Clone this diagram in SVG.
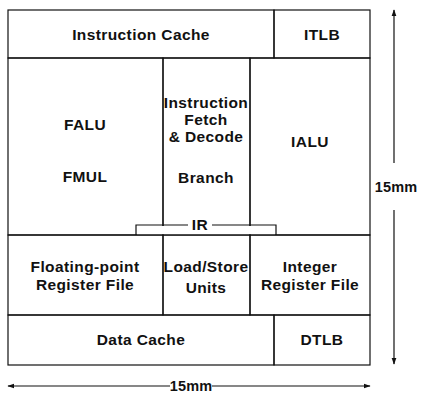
<svg xmlns="http://www.w3.org/2000/svg" width="422" height="393" viewBox="0 0 422 393">
<style>
text{font-family:"Liberation Sans",Arial,sans-serif;font-weight:bold;font-size:15.5px;fill:#111;text-anchor:middle;letter-spacing:0.4px}
.dim{font-size:14.5px;letter-spacing:0.2px}
.ln{stroke:#111;stroke-width:1.2;fill:none}
</style>
<defs>
<marker id="ah" viewBox="0 0 10 10" refX="9" refY="5" markerWidth="7" markerHeight="7" orient="auto-start-reverse" markerUnits="userSpaceOnUse">
<path d="M0,1.5 L10,5 L0,8.5 Z" fill="#111"/>
</marker>
</defs>
<rect width="422" height="393" fill="#fff"/>
<g id="icache"><rect class="ln" x="8" y="10" width="266" height="48"/><text x="141" y="40">Instruction Cache</text></g>
<g id="itlb"><rect class="ln" x="274" y="10" width="96" height="48"/><text x="322" y="40">ITLB</text></g>
<g id="fpu"><rect class="ln" x="8" y="58" width="155" height="177"/><text x="85" y="130">FALU</text><text x="85" y="182">FMUL</text></g>
<g id="ifetch"><rect class="ln" x="163" y="58" width="87" height="177"/><text x="206" y="108">Instruction</text><text x="206" y="125">Fetch</text><text x="206" y="142">&amp; Decode</text><text x="206" y="183">Branch</text></g>
<g id="ialu"><rect class="ln" x="250" y="58" width="120" height="177"/><text x="310" y="147">IALU</text></g>
<g id="ir"><path d="M136,235 V225 H188 M212,225 H276 V235" class="ln"/><rect x="137" y="226" width="138" height="8.4" fill="#fff"/><text x="200" y="230">IR</text></g>
<g id="fprf"><rect class="ln" x="8" y="235" width="155" height="80"/><text x="85" y="272">Floating-point</text><text x="85" y="290">Register File</text></g>
<g id="lsu"><rect class="ln" x="163" y="235" width="87" height="80"/><text x="206" y="272">Load/Store</text><text x="206" y="293">Units</text></g>
<g id="irf"><rect class="ln" x="250" y="235" width="120" height="80"/><text x="310" y="272">Integer</text><text x="310" y="290">Register File</text></g>
<g id="dcache"><rect class="ln" x="8" y="315" width="266" height="50"/><text x="141" y="345">Data Cache</text></g>
<g id="dtlb"><rect class="ln" x="274" y="315" width="96" height="50"/><text x="322" y="345">DTLB</text></g>
<g id="connectors">
<path class="ln" d="M394,163 V10" marker-end="url(#ah)"/>
<path class="ln" d="M394,210 V364" marker-end="url(#ah)"/>
<path class="ln" d="M170,386 H8" marker-end="url(#ah)"/>
<path class="ln" d="M212,386 H370" marker-end="url(#ah)"/>
</g>
<g id="labels"><text class="dim" x="396" y="192">15mm</text><text class="dim" x="191" y="391">15mm</text></g>
</svg>
